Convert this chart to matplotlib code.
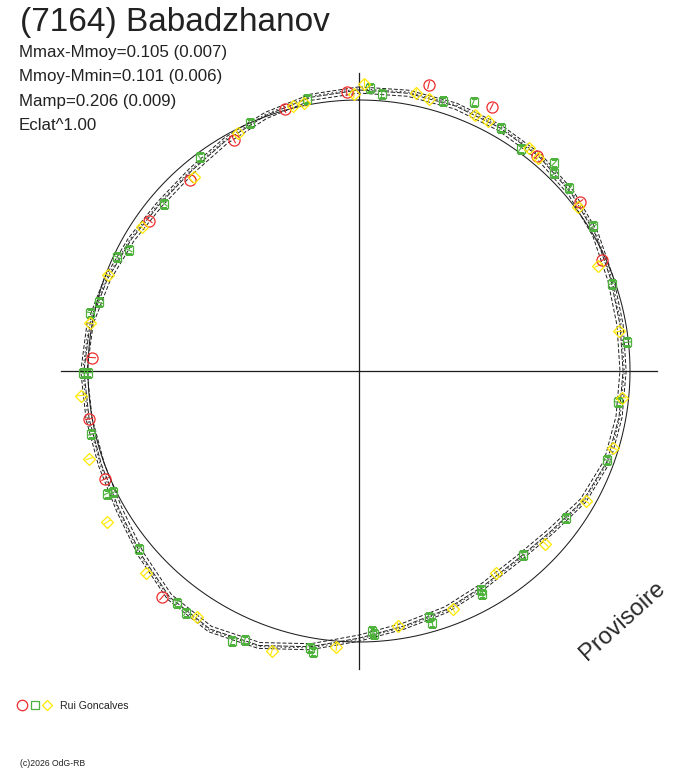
import numpy as np
import matplotlib
matplotlib.use("Agg")
import matplotlib.pyplot as plt

plt.rcParams['font.family'] = ['Liberation Sans', 'DejaVu Sans']

# ---------------- data ----------------
title = "(7164) Babadzhanov"
stats = ["Mmax-Mmoy=0.105 (0.007)",
         "Mmoy-Mmin=0.101 (0.006)",
         "Mamp=0.206 (0.009)",
         "Eclat^1.00"]
observer = "Rui Goncalves"
copyright_txt = "(c)2026 OdG-RB"
watermark = "Provisoire"

# fitted curve: phase grid (every 10 deg) and deviation from mean (mag, outward positive)
fit_phase = [i / 36 for i in range(36)]
fit_dm = [0.039, 0.043, 0.043, 0.039, 0.035, 0.023, 0.008, -0.012, -0.023, -0.027,
          -0.027, -0.027, -0.047, -0.082, -0.097, -0.088, -0.066, -0.047, -0.015, 0.035,
          0.082, 0.105, 0.093, 0.054, 0.023, 0.012, 0.012, 0.016, 0.008, -0.012,
          -0.031, -0.043, -0.039, -0.019, 0.004, 0.027]
fit_err = 0.012

# session 1 (red circles)
s1_phase = [0.038, 0.993, 0.956, 0.074, 0.110, 0.146, 0.182, 0.921, 0.885, 0.849,
            0.758, 0.722, 0.686, 0.614]
s1_dm = [0.091, 0.032, 0.005, 0.096, 0.032, 0.028, -0.015, -0.031, -0.062, -0.050,
         -0.014, 0.012, 0.019, 0.112]

# session 2 (green squares)
s2_phase = [0.970, 0.006, 0.013, 0.048, 0.064, 0.084, 0.100, 0.120, 0.124, 0.136,
            0.162, 0.197, 0.233, 0.269, 0.305, 0.348, 0.384, 0.419, 0.420, 0.456,
            0.455, 0.492, 0.491, 0.528, 0.526, 0.570, 0.564, 0.606, 0.599, 0.642,
            0.678, 0.677, 0.713, 0.749, 0.749, 0.784, 0.791, 0.820, 0.827, 0.863,
            0.898, 0.934]
s2_dm = [0.023, 0.047, 0.027, 0.046, 0.084, 0.041, 0.015, 0.055, 0.027, 0.029,
         0.017, -0.013, -0.006, -0.040, -0.029, -0.067, -0.095, -0.079, -0.065, -0.059,
         -0.034, -0.042, -0.029, 0.040, 0.054, 0.107, 0.082, 0.093, 0.102, 0.047,
         0.037, 0.012, 0.017, 0.019, 0.000, 0.017, -0.008, -0.014, -0.043, -0.056,
         -0.017, 0.000]

# session 3 (yellow diamonds)
s3_phase = [0.003, 0.997, 0.968, 0.961, 0.032, 0.040, 0.068, 0.076, 0.104, 0.111,
            0.148, 0.184, 0.226, 0.266, 0.297, 0.333, 0.369, 0.405, 0.440, 0.476,
            0.513, 0.548, 0.593, 0.629, 0.664, 0.700, 0.736, 0.778, 0.808, 0.843,
            0.888, 0.925]
s3_dm = [0.063, 0.024, 0.010, 0.009, 0.050, 0.037, 0.039, 0.040, 0.036, 0.028,
         0.010, -0.037, -0.031, -0.024, -0.021, -0.037, -0.066, -0.103, -0.059, -0.051,
         0.023, 0.088, 0.091, 0.088, 0.087, 0.049, 0.031, 0.010, -0.010, -0.041,
         -0.063, -0.014]
point_err = 0.016

# ---------------- styling ----------------
R_MEAN = 271 / 257     # radius of mean magnitude circle
R_AXIS = 298 / 257     # length of the cross arms
R_LIM = 340 / 257
RED, GREEN, YELLOW = "#ee2b2b", "#4fb23c", "#ffe800"
INK = "#1e1e1e"

W, H = 688, 768
fig = plt.figure(figsize=(W / 100, H / 100), dpi=100)
cx, cy, rp = 359, 371, 340
ax = fig.add_axes([(cx - rp) / W, (H - cy - rp) / H, 2 * rp / W, 2 * rp / H],
                  projection='polar')
ax.set_theta_zero_location('N')
ax.set_theta_direction(-1)
ax.set_rlim(0, R_LIM)
ax.set_axis_off()

# cross
for a in (0, np.pi / 2, np.pi, 3 * np.pi / 2):
    ax.plot([a, a], [0, R_AXIS], color=INK, lw=0.9, zorder=1)

# mean circle
tt = np.linspace(0, 2 * np.pi, 721)
ax.plot(tt, np.full_like(tt, R_MEAN), color=INK, lw=0.75, zorder=2)

# fitted curve and its uncertainty band
th = np.array(fit_phase + [fit_phase[0] + 1.0]) * 2 * np.pi
dm = np.array(fit_dm + [fit_dm[0]])
ax.plot(th, R_MEAN + dm, color=INK, lw=0.7, ls=(0, (5, 1.5)), zorder=3)
ax.plot(th, R_MEAN + dm + fit_err, color=INK, lw=0.7, ls=(0, (4, 2)), zorder=3)
ax.plot(th, R_MEAN + dm - fit_err, color=INK, lw=0.7, ls=(2, (4, 2)), zorder=3)
ax.plot(th, R_MEAN + dm + fit_err * 0.4, color=INK, lw=0.6, ls=(1, (2, 3)), zorder=3)

# data points
for ph, d, col, mk, ms in ((s1_phase, s1_dm, RED, 'o', 8.0),
                           (s2_phase, s2_dm, GREEN, 's', 6.2),
                           (s3_phase, s3_dm, YELLOW, 'D', 5.8)):
    t = np.array(ph) * 2 * np.pi
    r = R_MEAN + np.array(d)
    ax.vlines(t, r - point_err, r + point_err, colors=col, lw=0.8, zorder=4)
    ax.plot(t, r, ls='none', marker=mk, ms=ms, mfc='none', mec=col, mew=0.9, zorder=5)

# texts
fig.text(20 / W, 1 - 31 / H, title, fontsize=24, color="#222222", va='baseline')
for i, s in enumerate(stats):
    fig.text(19 / W, 1 - (57 + 24.4 * i) / H, s, fontsize=12.2, color="#222222", va='baseline')

fig.text(623 / W, 1 - 621 / H, watermark, fontsize=17.2, color="#2a2a2a",
         rotation=42, ha='center', va='center', rotation_mode='anchor')

# legend
lax = fig.add_axes([0, 0, 1, 1])
lax.set_xlim(0, W)
lax.set_ylim(H, 0)
lax.set_axis_off()
lax.plot([22], [705], marker='o', ms=7.5, mfc='none', mec=RED, mew=0.9, ls='none')
lax.plot([35], [705], marker='s', ms=5.5, mfc='none', mec=GREEN, mew=0.9, ls='none')
lax.plot([47], [705], marker='D', ms=5.2, mfc='none', mec=YELLOW, mew=0.9, ls='none')
lax.text(60, 709, observer, fontsize=7.6, color="#222222", va='baseline')
lax.text(20, 766, copyright_txt, fontsize=6.2, color="#222222", va='baseline')

fig.savefig("out.png", dpi=100)
